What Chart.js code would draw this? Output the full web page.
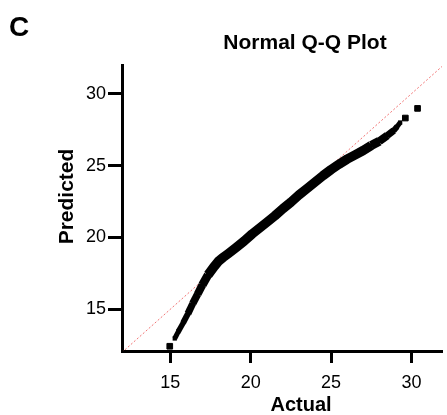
<!DOCTYPE html>
<html>
<head>
<meta charset="utf-8">
<script src="https://cdn.jsdelivr.net/npm/chart.js@4.4.1/dist/chart.umd.min.js"></script>
<style>
  html, body { margin: 0; padding: 0; background: #fff; }
</style>
</head>
<body>
<canvas id="chart" width="447" height="415"></canvas>
<script>
// Q-Q points: actual vs predicted (dense band)
const actual = [15.28, 15.5, 15.8, 16.1, 16.4, 16.7, 17.0, 17.35, 17.75, 18.0, 18.3, 18.6, 19.1, 19.6, 20.1, 20.55,
    21.0, 21.5, 22.0, 22.5, 23.0, 23.5, 24.0, 24.5, 25.0, 25.5, 26.0, 26.5, 27.0, 27.5, 28.0, 28.5, 28.9, 29.1, 29.3];
const predicted = [12.97, 13.45, 14.05, 14.7, 15.4, 16.05, 16.7, 17.4, 18.0, 18.35, 18.62, 18.87, 19.3, 19.75, 20.25, 20.65,
    21.05, 21.5, 22.0, 22.45, 22.95, 23.4, 23.85, 24.3, 24.72, 25.1, 25.45, 25.75, 26.05, 26.4, 26.7, 27.1, 27.45, 27.7, 28.0];

// the few loose points at both ends
const tailActual = [14.97, 29.62, 30.38];
const tailPredicted = [12.43, 28.31, 28.98];

// reference line y = x
const refLine = [12, 32];

const xTicks = [15, 20, 25, 30];
const yTicks = [15, 20, 25, 30];

const FONT = '"Liberation Sans", Arial, sans-serif';

// band is thinner at both ends where the points thin out
function bandWidth(i, n) {
    const fromStart = [5, 5.5, 6, 7, 7.5, 8, 8.5];
    const fromEnd = [5, 6, 7, 8, 9];
    if (i < fromStart.length) return fromStart[i];
    const back = n - 2 - i;
    if (back < fromEnd.length) return fromEnd[back];
    return 9.5;
}

// panel letter, title and axis titles
const panelText = {
    id: 'panelText',
    afterDraw(chart) {
        const c = chart.ctx;
        c.save();
        c.fillStyle = '#000';
        c.textBaseline = 'alphabetic';
        c.textAlign = 'left';
        c.font = 'bold 28px ' + FONT;
        c.fillText('C', 9, 36);
        c.textAlign = 'center';
        c.font = 'bold 21px ' + FONT;
        c.fillText('Normal Q-Q Plot', 305, 49);
        c.font = 'bold 20px ' + FONT;
        c.fillText('Actual', 301, 411);
        c.translate(73, 196.5);
        c.rotate(-Math.PI / 2);
        c.font = 'bold 21px ' + FONT;
        c.fillText('Predicted', 0, 0);
        c.restore();
    }
};

const toPoints = (xs, ys) => xs.map((x, i) => ({ x: x, y: ys[i] }));

const axisStyle = (tickLen, pad) => ({
    type: 'linear',
    grid: { drawOnChartArea: false, drawTicks: true, tickLength: tickLen, tickWidth: 3, tickColor: '#000' },
    border: { display: true, color: '#000', width: 3 },
    ticks: { color: '#000', font: { family: FONT, size: 18 }, padding: pad, maxRotation: 0 }
});

const ctx = document.getElementById('chart').getContext('2d');
const chart = new Chart(ctx, {
    type: 'scatter',
    data: {
        datasets: [
            {
                data: toPoints(actual, predicted),
                showLine: true,
                borderColor: '#000',
                borderWidth: 9,
                borderJoinStyle: 'round',
                segment: {
                    borderWidth: s => bandWidth(s.p0DataIndex, actual.length)
                },
                backgroundColor: '#000',
                pointStyle: 'rect',
                pointRadius: 3,
                pointBorderWidth: 0,
                order: 1
            },
            {
                data: toPoints(tailActual, tailPredicted),
                backgroundColor: '#000',
                borderColor: '#000',
                pointStyle: 'rect',
                pointRadius: 4,
                pointBorderWidth: 1,
                order: 1
            },
            {
                data: toPoints(refLine, refLine),
                showLine: true,
                borderColor: 'rgba(238, 80, 80, 0.8)',
                borderWidth: 1,
                borderDash: [2, 2],
                pointRadius: 0,
                order: 2
            }
        ]
    },
    options: {
        responsive: false,
        animation: false,
        devicePixelRatio: 1,
        layout: { padding: { top: 65, right: 4, left: 0, bottom: 0 } },
        plugins: {
            legend: { display: false },
            tooltip: { enabled: false }
        },
        scales: {
            x: Object.assign(axisStyle(12, 9), {
                min: 12, max: 31.9,
                afterBuildTicks: s => { s.ticks = xTicks.map(v => ({ value: v })); },
                afterFit: s => { s.height = 64; }
            }),
            y: Object.assign(axisStyle(14, 2), {
                min: 12.1, max: 32,
                afterBuildTicks: s => { s.ticks = yTicks.map(v => ({ value: v })); },
                afterFit: s => { s.width = 122; }
            })
        }
    },
    plugins: [panelText]
});
</script>
</body>
</html>
